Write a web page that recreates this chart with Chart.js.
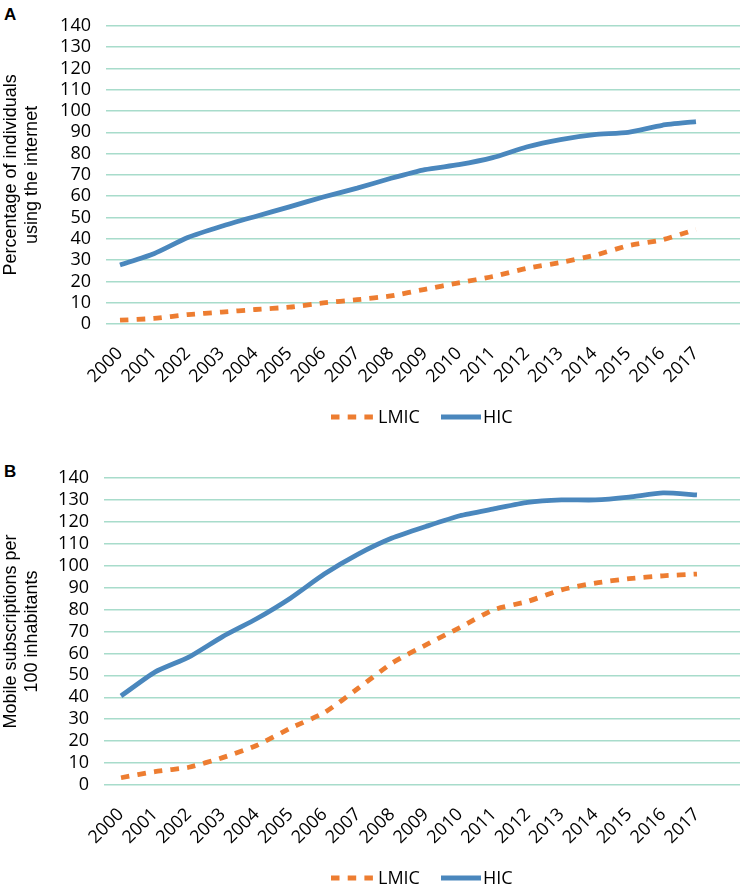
<!DOCTYPE html>
<html>
<head>
<meta charset="utf-8">
<script src="https://cdn.jsdelivr.net/npm/chart.js@4.4.0/dist/chart.umd.min.js"></script>
<style>
  html, body { margin: 0; padding: 0; background: #fff; overflow: hidden; }
  body { width: 749px; height: 885px; position: relative; }
  .panel { position: absolute; left: 0; width: 749px; }
  .tag { position: absolute; font: bold 17px "Liberation Sans", Arial, sans-serif; color: #000; }
  .legend { position: absolute; left: 331px; height: 20px; font: 18px "Open Sans", sans-serif; color: #000; white-space: nowrap; }
  .legend svg { position: absolute; top: 5px; }
  .legend span { position: absolute; top: -3px; line-height: 24px; }
</style>
</head>
<body>
<div class="tag" style="left:4px;top:5px;">A</div>
<div class="tag" style="left:4px;top:462px;">B</div>
<div class="panel" style="top:0;height:440px;"><canvas id="chartA"></canvas></div>
<div class="panel" style="top:440px;height:445px;"><canvas id="chartB"></canvas></div>
<div class="legend" id="legendA" style="top:407px;"></div>
<div class="legend" id="legendB" style="top:868px;"></div>
<script>
const years = [2000, 2001, 2002, 2003, 2004, 2005, 2006, 2007, 2008, 2009, 2010, 2011, 2012, 2013, 2014, 2015, 2016, 2017];
const yTicks = [0, 10, 20, 30, 40, 50, 60, 70, 80, 90, 100, 110, 120, 130, 140];

// panel A: internet use (%)
const lmicInternet = [1.8, 2.6, 4.4, 5.6, 6.8, 7.9, 9.9, 11.4, 13.2, 16.3, 19.3, 22.3, 26.1, 28.9, 32.2, 36.8, 39.5, 44.4];
const hicInternet = [27.7, 33.0, 40.6, 45.9, 50.5, 55.0, 59.6, 63.8, 68.4, 72.5, 74.8, 78.1, 83.1, 86.6, 88.9, 90.0, 93.3, 95.0];

// panel B: mobile subscriptions per 100
const lmicMobile = [3.3, 6.1, 8.1, 12.5, 18.0, 25.9, 33.0, 44.1, 55.6, 63.9, 71.8, 79.9, 83.7, 89.0, 92.1, 94.1, 95.4, 96.2];
const hicMobile = [40.6, 51.5, 58.3, 67.7, 75.8, 85.2, 96.2, 105.3, 112.6, 117.9, 122.8, 125.9, 128.9, 130.0, 130.0, 131.3, 133.2, 132.3];

const seriesNames = ['LMIC', 'HIC'];

const tickFont = { family: '"Open Sans", sans-serif', size: 18 };
const titleFont = { family: '"Liberation Sans", Arial, sans-serif', size: 18, lineHeight: 1.2 };
const gridColor = '#a8dccb';
const blue = '#4a87bd';
const orange = '#ed7d31';
const dash = [8.5, 8.2];

const pts = arr => arr.map((v, i) => ({ x: years[i], y: v }));

function makeChart(id, lmic, hic, titleLines, o) {
  return new Chart(document.getElementById(id), {
    type: 'line',
    data: {
      datasets: [
        { label: seriesNames[0], data: pts(lmic), borderColor: orange, backgroundColor: orange, borderWidth: 4.8, borderDash: dash, borderCapStyle: 'butt', pointRadius: 0, tension: 0.2, fill: false },
        { label: seriesNames[1], data: pts(hic), borderColor: blue, backgroundColor: blue, borderWidth: 4.8, pointRadius: 0, tension: 0.2, fill: false }
      ]
    },
    options: {
      responsive: true,
      maintainAspectRatio: false,
      animation: false,
      layout: { padding: { left: 0, right: 9, top: o.top, bottom: o.bottom } },
      plugins: { legend: { display: false }, tooltip: { enabled: false } },
      scales: {
        x: {
          type: 'linear',
          min: o.xMin,
          max: o.xMax,
          grid: { display: false },
          border: { display: false },
          afterBuildTicks: s => { s.ticks = years.map(y => ({ value: y })); },
          afterFit: s => { s.height = 75; },
          ticks: { font: tickFont, color: '#000', minRotation: 45, maxRotation: 45, autoSkip: false, padding: 11, callback: v => String(v) }
        },
        y: {
          min: 0,
          max: 140,
          afterBuildTicks: s => { s.ticks = yTicks.map(v => ({ value: v })); },
          afterFit: s => { s.width = o.left; },
          grid: { color: gridColor, lineWidth: 1.5, drawTicks: false },
          border: { display: false },
          ticks: { font: tickFont, color: '#000', padding: 15, autoSkip: false },
          title: { display: true, text: titleLines, font: titleFont, color: '#000', padding: { top: 0, bottom: 0 } }
        }
      }
    }
  });
}

// html legend: dashed orange sample + solid blue sample
function buildLegend(id) {
  const box = document.getElementById(id);
  box.innerHTML =
    '<svg width="44" height="10" style="left:0"><line x1="0" y1="5" x2="44" y2="5" stroke="' + orange + '" stroke-width="5" stroke-dasharray="' + dash.join(' ') + '"/></svg>' +
    '<span style="left:47px">' + seriesNames[0] + '</span>' +
    '<svg width="40" height="10" style="left:110px"><line x1="0" y1="5" x2="40" y2="5" stroke="' + blue + '" stroke-width="5"/></svg>' +
    '<span style="left:152px">' + seriesNames[1] + '</span>';
}

makeChart('chartA', lmicInternet, hicInternet, ['Percentage of individuals', 'using the internet'],
  { top: 17, bottom: 41, left: 106, xMin: 1999.587, xMax: 2018.30 });
makeChart('chartB', lmicMobile, hicMobile, ['Mobile subscriptions per', '100 inhabitants'],
  { top: 38, bottom: 25, left: 104, xMin: 1999.498, xMax: 2018.27 });
buildLegend('legendA');
buildLegend('legendB');
</script>
</body>
</html>
